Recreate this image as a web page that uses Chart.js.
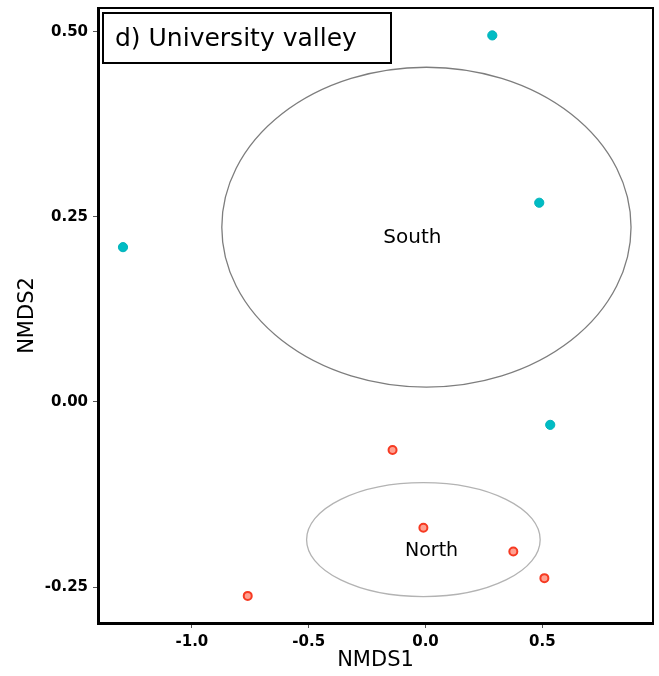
<!DOCTYPE html>
<html>
<head>
<meta charset="utf-8">
<script src="https://cdn.jsdelivr.net/npm/chart.js@4.4.1/dist/chart.umd.min.js"></script>
<style>
  html, body { margin: 0; padding: 0; background: #fff; }
  #wrap { width: 659px; height: 676px; position: relative; }
</style>
</head>
<body>
<div id="wrap"><canvas id="nmds"></canvas></div>
<script>
// NMDS scores
const southX = [0.286, 0.487, -1.295, 0.534];
const southY = [0.495, 0.269, 0.209, -0.031];
const northX = [-0.141, -0.009, 0.376, 0.509, -0.761];
const northY = [-0.065, -0.170, -0.202, -0.238, -0.262];

const xTicks = [-1.0, -0.5, 0.0, 0.5];
const yTicks = [-0.25, 0.00, 0.25, 0.50];

// group ellipses (centre / half-axes in NMDS units) and their labels
const groupNames = ['South', 'North'];
const ellipseCx = [0.004, -0.009];
const ellipseCy = [0.236, -0.186];
const ellipseRx = [0.876, 0.500];
const ellipseRy = [0.216, 0.077];
const labelX = [-0.056, 0.026];
const labelY = [0.221, -0.201];

const panelTitle = 'd) University valley';

const FONT = '"DejaVu Sans", "Liberation Sans", Arial, sans-serif';

function toPoints(xs, ys) {
    return xs.map(function (x, i) { return { x: x, y: ys[i] }; });
}

const ellipseColors = ['#7d7d7d', '#b3b3b3'];
const labelSizes = [20, 19];

const ellipsePlugin = {
    id: 'ellipses',
    beforeDatasetsDraw: function (chart) {
        const ctx = chart.ctx, xs = chart.scales.x, ys = chart.scales.y, a = chart.chartArea;
        ctx.save();
        ctx.beginPath();
        ctx.rect(a.left, a.top, a.right - a.left, a.bottom - a.top);
        ctx.clip();
        groupNames.forEach(function (name, i) {
            const cx = xs.getPixelForValue(ellipseCx[i]);
            const cy = ys.getPixelForValue(ellipseCy[i]);
            const rx = Math.abs(xs.getPixelForValue(ellipseCx[i] + ellipseRx[i]) - cx);
            const ry = Math.abs(ys.getPixelForValue(ellipseCy[i] + ellipseRy[i]) - cy);
            ctx.beginPath();
            ctx.ellipse(cx, cy, rx, ry, 0, 0, Math.PI * 2);
            ctx.strokeStyle = ellipseColors[i];
            ctx.lineWidth = 1.3;
            ctx.stroke();

            ctx.fillStyle = '#000';
            ctx.font = labelSizes[i] + 'px ' + FONT;
            ctx.textAlign = 'center';
            ctx.textBaseline = 'middle';
            ctx.fillText(name, xs.getPixelForValue(labelX[i]), ys.getPixelForValue(labelY[i]));
        });
        ctx.restore();
    },
    afterDraw: function (chart) {
        const ctx = chart.ctx, a = chart.chartArea;
        ctx.save();
        // top / right frame
        ctx.strokeStyle = '#000';
        ctx.lineWidth = 2;
        ctx.beginPath();
        ctx.moveTo(a.left, a.top);
        ctx.lineTo(a.right, a.top);
        ctx.lineTo(a.right, a.bottom);
        ctx.stroke();
        // panel title box
        ctx.fillStyle = '#fff';
        ctx.fillRect(a.left + 5, a.top + 5, 288, 50);
        ctx.strokeRect(a.left + 5, a.top + 5, 288, 50);
        ctx.fillStyle = '#000';
        ctx.font = '25px ' + FONT;
        ctx.textAlign = 'left';
        ctx.textBaseline = 'middle';
        ctx.fillText(panelTitle, a.left + 17, a.top + 31);
        ctx.restore();
    }
};

new Chart(document.getElementById('nmds'), {
    type: 'scatter',
    data: {
        datasets: [
            {
                label: 'North',
                data: toPoints(northX, northY),
                backgroundColor: '#ffa090',
                borderColor: '#f63a22',
                borderWidth: 2,
                pointRadius: 4,
                pointHoverRadius: 4
            },
            {
                label: 'South',
                data: toPoints(southX, southY),
                backgroundColor: '#00bcc4',
                borderColor: '#00b2ba',
                borderWidth: 1,
                pointRadius: 4.6,
                pointHoverRadius: 4.6
            }
        ]
    },
    plugins: [ellipsePlugin],
    options: {
        responsive: true,
        maintainAspectRatio: false,
        animation: false,
        layout: { padding: { top: 8, right: 5, left: 0, bottom: 0 } },
        plugins: {
            legend: { display: false },
            tooltip: { enabled: false }
        },
        scales: {
            x: {
                type: 'linear',
                min: -1.402,
                max: 0.974,
                afterBuildTicks: function (scale) {
                    scale.ticks = xTicks.map(function (v) { return { value: v }; });
                },
                afterFit: function (scale) {
                    scale.height = 53;
                    scale.paddingLeft = 0;
                    scale.paddingRight = 0;
                },
                grid: { display: true, drawOnChartArea: false, tickLength: 5, tickColor: '#555', tickWidth: 1 },
                border: { display: true, color: '#000', width: 3 },
                ticks: {
                    color: '#000',
                    padding: 5,
                    font: { family: FONT, size: 15, weight: 'bold' },
                    callback: function (v) { return v.toFixed(1); }
                },
                title: {
                    display: true,
                    text: 'NMDS1',
                    color: '#000',
                    font: { family: FONT, size: 21 },
                    padding: { top: 0, bottom: 3 }
                }
            },
            y: {
                type: 'linear',
                min: -0.2986,
                max: 0.532,
                afterBuildTicks: function (scale) {
                    scale.ticks = yTicks.map(function (v) { return { value: v }; });
                },
                afterFit: function (scale) {
                    scale.width = 98;
                    scale.paddingTop = 0;
                    scale.paddingBottom = 0;
                },
                grid: { display: true, drawOnChartArea: false, tickLength: 5, tickColor: '#555', tickWidth: 1 },
                border: { display: true, color: '#000', width: 3 },
                ticks: {
                    color: '#000',
                    padding: 5,
                    font: { family: FONT, size: 15, weight: 'bold' },
                    callback: function (v) { return v.toFixed(2); }
                },
                title: {
                    display: true,
                    text: 'NMDS2',
                    color: '#000',
                    font: { family: FONT, size: 21 },
                    padding: { top: 15, bottom: 0 }
                }
            }
        }
    }
});
</script>
</body>
</html>
